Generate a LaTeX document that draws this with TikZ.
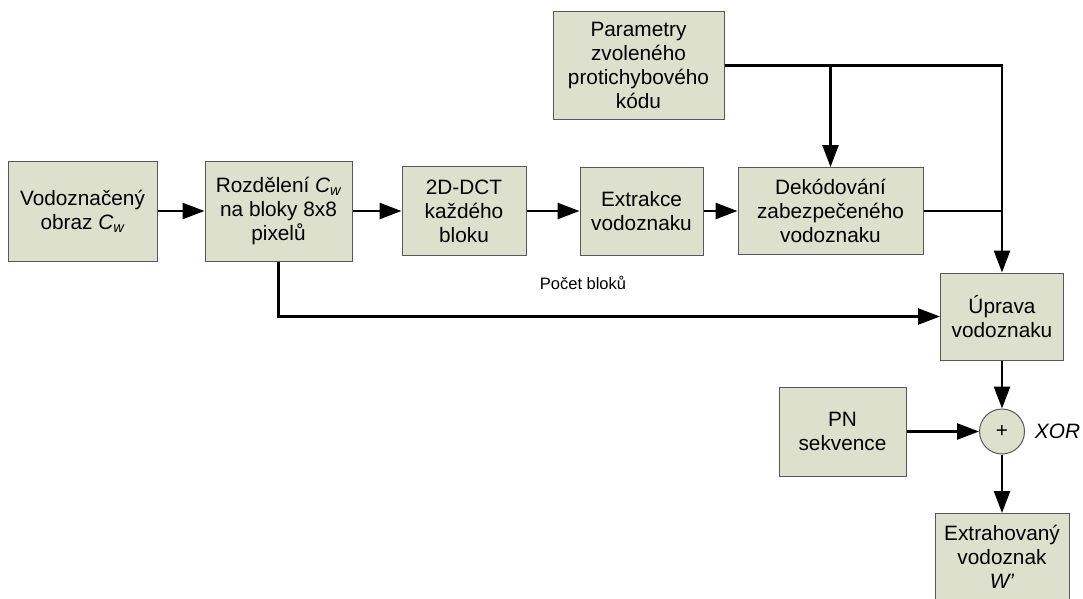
\documentclass[tikz,border=0pt]{standalone}
\usepackage{fontspec}
\setmainfont{Liberation Sans}
\usetikzlibrary{arrows.meta}
\definecolor{boxfill}{RGB}{220,224,204}
\definecolor{boxline}{RGB}{88,88,88}
\begin{document}
\begin{tikzpicture}[x=1pt,y=-1pt,
  blk/.style={draw=boxline, line width=1pt, fill=boxfill, align=center,
    inner sep=2pt, font=\fontsize{20.8}{24}\selectfont},
  conn/.style={line width=2.5pt},
  arr/.style={conn, -{Triangle[length=22pt,width=16pt]}},
  lbl/.style={font=\fontsize{16.5}{20}\selectfont},
  opname/.style={font=\fontsize{20.8}{24}\selectfont\itshape}]
\useasboundingbox (0,0) rectangle (1083,598);

% processing blocks
\node[blk, minimum width=149pt, minimum height=100pt] (img) at (82.5,211)
  {Vodoznačený\\obraz \textit{C\textsubscript{w}}};
\node[blk, minimum width=147pt, minimum height=100pt] (split) at (278.5,211)
  {Rozdělení \textit{C\textsubscript{w}}\\na bloky 8x8\\pixelů};
\node[blk, minimum width=124pt, minimum height=89pt] (dct) at (464,211)
  {2D-DCT\\každého\\bloku};
\node[blk, minimum width=123pt, minimum height=88pt] (extr) at (641.5,211)
  {Extrakce\\vodoznaku};
\node[blk, minimum width=185pt, minimum height=87pt] (dec) at (830.5,211)
  {Dekódování\\zabezpečeného\\vodoznaku};
\node[blk, minimum width=171pt, minimum height=108pt] (par) at (638.5,65.5)
  {Parametry\\zvoleného\\protichybového\\kódu};
\node[blk, minimum width=123pt, minimum height=87pt] (upr) at (1002,316.5)
  {Úprava\\vodoznaku};
\node[blk, minimum width=127pt, minimum height=89pt] (pn) at (842.5,431.5)
  {PN\\sekvence};
\node[blk, circle, minimum size=45pt, inner sep=0pt] (xor) at (1002,431.5) {+};
\node[opname] (xorlbl) at (1057.5,431) {XOR};
\node[blk, minimum width=134pt, minimum height=86pt] (ext) at (1002,556.5)
  {Extrahovaný\\vodoznak\\\textit{W'}};

% connectors
\draw[arr] (img.east) -- (split.west);
\draw[arr] (split.east) -- (dct.west);
\draw[arr] (dct.east) -- (extr.west);
\draw[arr] (extr.east) -- (dec.west);
\draw[arr] (par.east) -| (upr.north);
\draw[arr] (par.east -| dec.north) -- (dec.north);
\draw[conn] (dec.east) -- (dec.east -| upr.north);
\draw[arr] (split.south) |- (upr.west);
\node[lbl] (cnt) at (583,283) {Počet bloků};
\draw[arr] (upr.south) -- (xor.north);
\draw[arr] (pn.east) -- (xor.west);
\draw[arr] (xor.south) -- (ext.north);
\end{tikzpicture}
\end{document}
